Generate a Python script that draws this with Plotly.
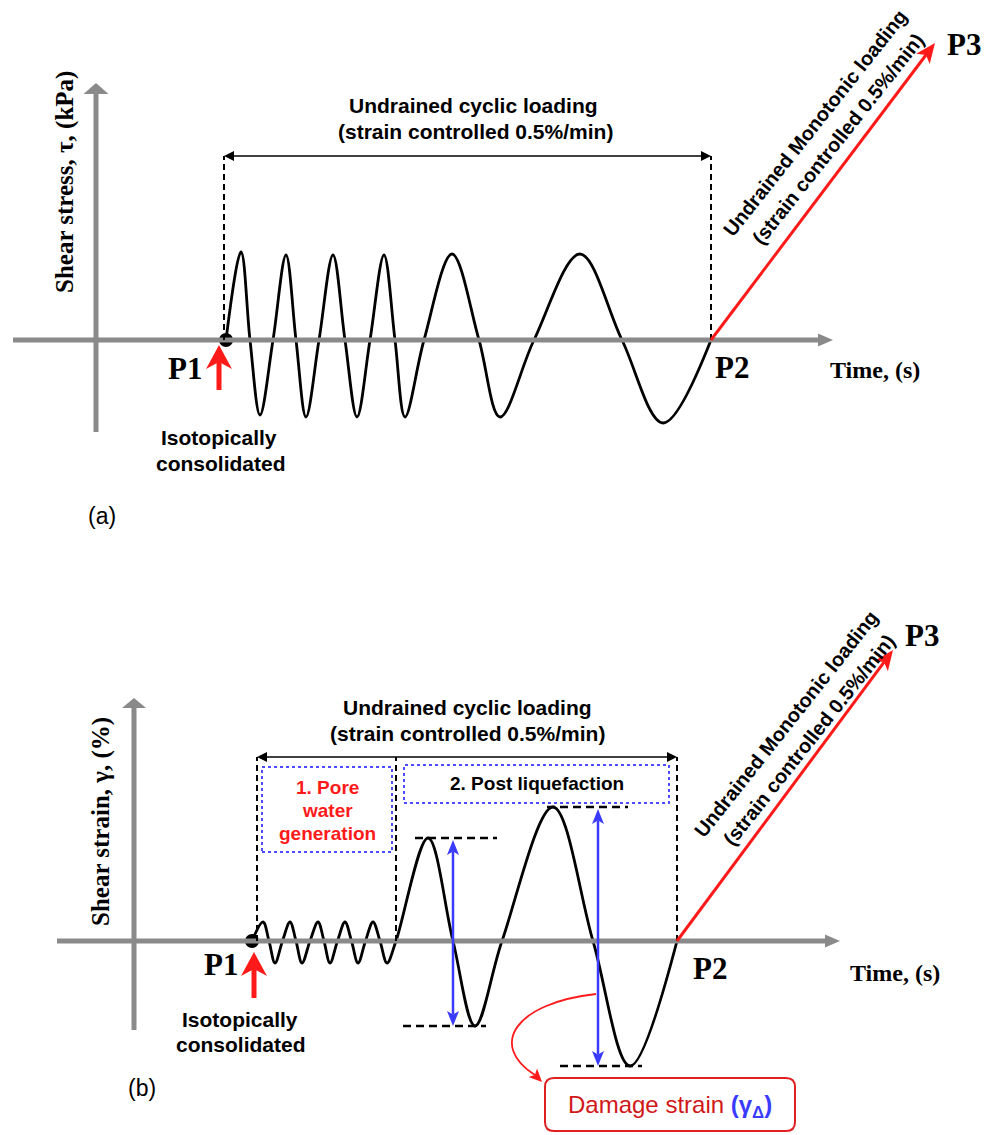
import math
import plotly.graph_objects as go

W, H = 988, 1135

# ---------------- data ----------------
# Panel (a): shear stress history (turning points and zero crossings)
stress_time = [13.0, 14.5, 15.4, 16.4, 17.7, 19.0, 20.0, 21.0, 22.3, 23.7, 24.9, 26.1, 27.4,
               28.8, 29.9, 30.9, 32.8, 35.6, 38.3, 40.4, 43.8, 48.4, 52.6, 56.7, 61.5]
stress_value = [0, 8.8, 0, -7.5, 0, 8.5, 0, -7.7, 0, 8.5, 0, -7.7, 0,
                8.5, 0, -7.7, 0, 8.6, 0, -7.7, 0, 8.6, 0, -8.3, 0]
a_event_labels = ["P1", "P2", "P3"]
a_event_time = [13.0, 61.5, 83.9]
a_event_value = [0.0, 0.0, 29.7]
a_phase_bounds = [12.8, 61.5]

# Panel (b): shear strain history
strain_time = [11.8, 12.9, 13.5, 14.1, 14.85, 15.6, 16.2, 16.8, 17.6, 18.4, 19.0, 19.6, 20.35,
               21.1, 21.75, 22.4, 23.15, 23.9, 24.6, 25.3, 26.2, 29.4, 31.9, 34.1, 36.8,
               41.9, 45.9, 49.6, 54.3]
strain_value = [0, 1.9, 0, -2.2, 0, 1.9, 0, -2.2, 0, 1.9, 0, -2.2, 0,
                1.9, 0, -2.2, 0, 1.9, 0, -2.2, 0, 10.3, 0, -8.5, 0,
                13.4, 0, -12.5, 0]
b_event_labels = ["P1", "P2", "P3"]
b_event_time = [11.8, 54.3, 75.9]
b_event_value = [0.0, 0.0, 29.1]
b_phase_bounds = [12.3, 26.2, 54.3]
damage_arrow_time = [31.9, 46.4]

# ---------------- helpers ----------------
GRAY = "#8a8a8a"
RED = "#ff1a1a"
BLUE = "#3b3bff"
SANS = "Liberation Sans, Arial, sans-serif"
SERIF = "Liberation Serif, Times New Roman, serif"

shapes = []
annotations = []


def line(ax, x0, y0, x1, y1, color="black", width=2, dash="solid"):
    shapes.append(dict(type="line", xref="x" + ax, yref="y" + ax, x0=x0, y0=y0, x1=x1, y1=y1,
                       line=dict(color=color, width=width, dash=dash), layer="above"))


def head(ax, tip, direction, length, half, color, notch=0.0):
    dx, dy = direction
    n = math.hypot(dx, dy)
    ux, uy = dx / n, dy / n
    vx, vy = -uy, ux
    tx, ty = tip
    bx, by = tx - ux * length, ty - uy * length
    lx, ly = bx + vx * half, by + vy * half
    rx, ry = bx - vx * half, by - vy * half
    nx, ny = bx + ux * notch, by + uy * notch
    path = f"M{tx},{ty} L{lx},{ly} L{nx},{ny} L{rx},{ry} Z"
    shapes.append(dict(type="path", xref="x" + ax, yref="y" + ax, path=path,
                       fillcolor=color, line=dict(width=0), layer="above"))
    return (bx + ux * notch, by + uy * notch)


def arrow(ax, start, tip, color, width, length, half, notch=0.0, both=False):
    d = (tip[0] - start[0], tip[1] - start[1])
    end = head(ax, tip, d, length, half, color, notch)
    s = start
    if both:
        s = head(ax, start, (-d[0], -d[1]), length, half, color, notch)
    line(ax, s[0], s[1], end[0], end[1], color=color, width=width)


def txt(px, py, s, size, color="black", family=SANS, bold=True, angle=0):
    annotations.append(dict(x=px / W, y=1 - py / H, xref="paper", yref="paper",
                            text=f"<b>{s}</b>" if bold else s, showarrow=False,
                            font=dict(size=size, color=color, family=family),
                            textangle=angle, xanchor="center", yanchor="middle"))


# ---------------- panel (a) ----------------
arrow("", (0, -9.2), (0, 25.7), GRAY, 5, 1.1, 1.25)
arrow("", (-8.3, 0), (73.7, 0), GRAY, 5, 1.5, 0.65)
for t in a_phase_bounds:
    line("", t, 0, t, 18.4, width=2, dash="6px,4px")
arrow("", (a_phase_bounds[0], 18.4), (a_phase_bounds[1], 18.4), "black", 1.3, 1.0, 0.5, both=True)
arrow("", (12.3, -5.0), (12.3, -0.5), RED, 5, 2.4, 1.3, notch=0.7)
arrow("", (a_event_time[1], a_event_value[1]), (a_event_time[2], a_event_value[2]), RED, 3, 2.0, 0.85, notch=0.5)

# ---------------- panel (b) ----------------
arrow("2", (0, -8.9), (0, 24.3), GRAY, 5, 1.0, 1.2)
arrow("2", (-7.7, 0), (70.6, 0), GRAY, 5, 1.5, 0.65)
for t in b_phase_bounds:
    line("2", t, 0, t, 18.4, width=2, dash="6px,4px")
arrow("2", (b_phase_bounds[0], 18.4), (b_phase_bounds[2], 18.4), "black", 1.3, 1.0, 0.5, both=True)
shapes.append(dict(type="rect", xref="x2", yref="y2", x0=12.8, x1=25.8, y0=8.9, y1=17.4,
                   line=dict(color="#4d4dff", width=2, dash="dot"), layer="above"))
shapes.append(dict(type="rect", xref="x2", yref="y2", x0=27.0, x1=53.5, y0=13.8, y1=17.6,
                   line=dict(color="#4d4dff", width=2, dash="dot"), layer="above"))
pk1_t, pk1_v = strain_time[21], strain_value[21]
tr1_t, tr1_v = strain_time[23], strain_value[23]
pk2_t, pk2_v = strain_time[25], strain_value[25]
tr2_t, tr2_v = strain_time[27], strain_value[27]
line("2", pk1_t - 1.3, pk1_v, pk1_t + 6.9, pk1_v, width=2.5, dash="8px,5px")
line("2", tr1_t - 7.2, tr1_v, tr1_t + 1.1, tr1_v, width=2.5, dash="8px,5px")
line("2", pk2_t - 0.6, pk2_v, pk2_t + 7.5, pk2_v, width=2.5, dash="8px,5px")
line("2", tr2_t - 7.0, tr2_v, tr2_t + 1.2, tr2_v, width=2.5, dash="8px,5px")
arrow("2", (damage_arrow_time[0], tr1_v), (damage_arrow_time[0], pk1_v - 0.2), BLUE, 2.5, 1.5, 0.6, notch=0.35, both=True)
arrow("2", (damage_arrow_time[1], tr2_v), (damage_arrow_time[1], pk2_v - 0.2), BLUE, 2.5, 1.5, 0.6, notch=0.35, both=True)
arrow("2", (12.0, -5.7), (12.0, -1.1), RED, 5, 2.4, 1.3, notch=0.7)
arrow("2", (b_event_time[1], b_event_value[1]), (b_event_time[2], b_event_value[2]), RED, 3, 2.0, 0.85, notch=0.5)
tipc = (40.8, -14.1)
bc = head("2", tipc, (1, -1), 1.3, 0.6, RED, notch=0.3)
shapes.append(dict(type="path", xref="x2", yref="y2",
                   path=f"M46.2,-5.3 C38.1,-6.2 35.4,-10.4 {bc[0]},{bc[1]}",
                   line=dict(color=RED, width=1.8), layer="above"))
x0, x1, y0, y1, r = 41.1, 66.1, -19.0, -13.7, 0.9
rr = (f"M{x0 + r},{y1} L{x1 - r},{y1} Q{x1},{y1} {x1},{y1 - r} L{x1},{y0 + r} "
      f"Q{x1},{y0} {x1 - r},{y0} L{x0 + r},{y0} Q{x0},{y0} {x0},{y0 + r} "
      f"L{x0},{y1 - r} Q{x0},{y1} {x0 + r},{y1} Z")
shapes.append(dict(type="path", xref="x2", yref="y2", path=rr,
                   line=dict(color="#e02020", width=2), fillcolor="white", layer="above"))

# ---------------- traces ----------------
fig = go.Figure()
fig.add_trace(go.Scatter(x=stress_time, y=stress_value, mode="lines",
                         line=dict(color="black", width=2.8, shape="spline", smoothing=1.0),
                         xaxis="x", yaxis="y", hoverinfo="skip"))
fig.add_trace(go.Scatter(x=[a_event_time[0]], y=[a_event_value[0]], mode="markers",
                         marker=dict(color="black", size=14), xaxis="x", yaxis="y", hoverinfo="skip"))
fig.add_trace(go.Scatter(x=strain_time, y=strain_value, mode="lines",
                         line=dict(color="black", width=2.8, shape="spline", smoothing=1.0),
                         xaxis="x2", yaxis="y2", hoverinfo="skip"))
fig.add_trace(go.Scatter(x=[b_event_time[0]], y=[b_event_value[0]], mode="markers",
                         marker=dict(color="black", size=14), xaxis="x2", yaxis="y2", hoverinfo="skip"))

# ---------------- text ----------------
txt(65, 182, "Shear stress, τ, (kPa)", 25, family=SERIF, angle=-90)
txt(473, 105, "Undrained cyclic loading", 21)
txt(475, 132, "(strain controlled 0.5%/min)", 21)
txt(185, 368, a_event_labels[0], 31, family=SERIF)
txt(732, 367, a_event_labels[1], 31, family=SERIF)
txt(964, 45, a_event_labels[2], 31, family=SERIF)
txt(875, 370, "Time, (s)", 24, family=SERIF)
txt(219, 438, "Isotopically", 21)
txt(221, 463, "consolidated", 21)
txt(815, 123, "Undrained Monotonic loading", 20, angle=-51.6)
txt(838, 139, "(strain controlled 0.5%/min)", 20, angle=-51.6)
txt(102, 516, "(a)", 23, bold=False)

txt(101, 822, "Shear strain, γ, (%)", 25, family=SERIF, angle=-90)
txt(467, 707, "Undrained cyclic loading", 21)
txt(467, 733, "(strain controlled 0.5%/min)", 21)
txt(327, 787, "1. Pore", 19, color="#ff1a1a")
txt(327, 810, "water", 19, color="#ff1a1a")
txt(327, 833, "generation", 19, color="#ff1a1a")
txt(537, 783, "2. Post liquefaction", 19)
txt(221, 965, b_event_labels[0], 31, family=SERIF)
txt(710, 968, b_event_labels[1], 31, family=SERIF)
txt(922, 635, b_event_labels[2], 31, family=SERIF)
txt(895, 973, "Time, (s)", 24, family=SERIF)
txt(240, 1019, "Isotopically", 21)
txt(241, 1044, "consolidated", 21)
txt(786, 724, "Undrained Monotonic loading", 20, angle=-51.6)
txt(809, 740, "(strain controlled 0.5%/min)", 20, angle=-51.6)
txt(142, 1088, "(b)", 23, bold=False)
annotations.append(dict(x=670 / W, y=1 - 1106 / H, xref="paper", yref="paper", showarrow=False,
                        text="Damage strain <b style='color:#3b3bff'>(γ<sub>Δ</sub>)</b>",
                        font=dict(size=24, color="#d01818", family=SANS),
                        xanchor="center", yanchor="middle"))

split = 567 / H
fig.update_layout(
    width=W, height=H, margin=dict(l=0, r=0, t=0, b=0),
    paper_bgcolor="white", plot_bgcolor="white", showlegend=False,
    xaxis=dict(domain=[0, 1], range=[-9.6, 89.2], visible=False, fixedrange=True),
    yaxis=dict(domain=[1 - split, 1], range=[-22.7, 34.0], visible=False, fixedrange=True),
    xaxis2=dict(domain=[0, 1], range=[-13.4, 85.4], visible=False, anchor="y2", fixedrange=True),
    yaxis2=dict(domain=[0, 1 - split], range=[-19.4, 37.4], visible=False, anchor="x2", fixedrange=True),
    shapes=shapes, annotations=annotations,
)

fig.write_html("out.html", config={"displayModeBar": False})
